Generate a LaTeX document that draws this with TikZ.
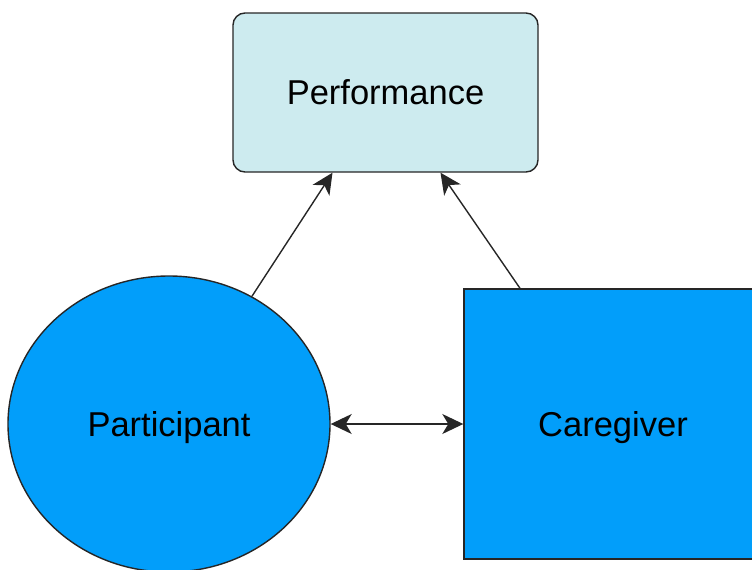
\documentclass[tikz,border=0pt]{standalone}
\usepackage{fontspec}
\setmainfont{Liberation Sans}
\usetikzlibrary{shapes.geometric,arrows.meta}

\definecolor{perffill}{RGB}{205,235,239}
\definecolor{actorblue}{RGB}{2,158,250}

\tikzset{
  box/.style={draw=black!85, line width=1.4pt, inner sep=0pt,
              text height=24.7pt, text depth=0pt,
              font=\fontsize{34.5}{40}\selectfont},
  link/.style={draw=black!85, line width=1.4pt, -{Stealth[length=21pt,width=20pt,inset=6pt]}},
  duallink/.style={draw=black!85, line width=1.4pt,
               {Stealth[length=21pt,width=20pt,inset=6pt]}-{Stealth[length=21pt,width=20pt,inset=6pt]}}
}

\begin{document}
\begin{tikzpicture}[x=1pt,y=-1pt]
  \useasboundingbox (0,0) rectangle (752,570);
  \clip (0,0) rectangle (752,570);

  % outcome box
  \node[box, rectangle, rounded corners=12pt, fill=perffill,
        minimum width=305pt, minimum height=159pt] (perf) at (385.5,92.5) {Performance};

  % the two actors
  \node[box, ellipse, fill=actorblue,
        minimum width=322pt, minimum height=296pt] (part) at (169,424) {Participant};
  \node[box, rectangle, fill=actorblue,
        minimum width=298pt, minimum height=270pt] (care) at (613,424) {Caregiver};

  % influences on performance
  \draw[link] (part.57) -- ([xshift=-53pt]perf.south);
  \draw[link] ([xshift=-93pt]care.north) -- ([xshift=55pt]perf.south);

  % mutual relation
  \draw[duallink] (part.east) -- (care.west);
\end{tikzpicture}
\end{document}
